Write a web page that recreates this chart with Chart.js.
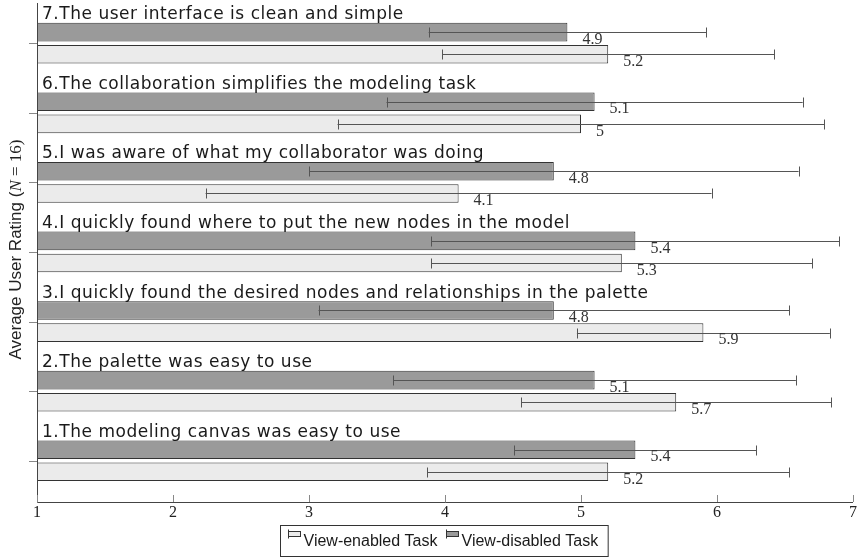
<!DOCTYPE html>
<html><head><meta charset="utf-8">
<script src="https://cdn.jsdelivr.net/npm/chart.js@4/dist/chart.umd.min.js"></script>
<style>html,body{margin:0;padding:0;background:#fff}#wrap{position:relative;width:858px;height:559px}</style>
</head><body><div id="wrap"><canvas id="c" width="858" height="559"></canvas></div>
<script>
// ---- data ----
const questions = [
  "1.The modeling canvas was easy to use",
  "2.The palette was easy to use",
  "3.I quickly found the desired nodes and relationships in the palette",
  "4.I quickly found where to put the new nodes in the model",
  "5.I was aware of what my collaborator was doing",
  "6.The collaboration simplifies the modeling task",
  "7.The user interface is clean and simple"
];
const questionIndex = [1, 2, 3, 4, 5, 6, 7];
const enabledMeans  = [5.2, 5.7, 5.9, 5.3, 4.1, 5.0, 5.2];
const enabledErr    = [1.33, 1.14, 0.93, 1.40, 1.86, 1.79, 1.22];
const disabledMeans = [5.4, 5.1, 4.8, 5.4, 4.8, 5.1, 4.9];
const disabledErr   = [0.89, 1.48, 1.73, 1.50, 1.80, 1.53, 1.02];
const seriesNames   = ["View-enabled Task", "View-disabled Task"];
const xTicks        = [1, 2, 3, 4, 5, 6, 7];

const SANS = '"Liberation Sans", Arial, sans-serif';
const TSANS = '"DejaVu Sans", "Liberation Sans", sans-serif';
const SERIF = '"Liberation Serif", "Times New Roman", serif';
const colEnabled = '#ebebeb', colDisabled = '#9a9a9a', colEdge = '#333333', colErr = '#555555';

const toPts = (vals) => vals.map((v, i) => ({ x: v, y: questionIndex[i] }));

const deco = {
  id: 'deco',
  afterDatasetsDraw(chart) {
    const ctx = chart.ctx, xs = chart.scales.x, ys = chart.scales.y, ca = chart.chartArea;
    ctx.save();
    // axis lines
    ctx.strokeStyle = '#444'; ctx.lineWidth = 1;
    ctx.beginPath();
    ctx.moveTo(ca.left + 0.5, ca.top); ctx.lineTo(ca.left + 0.5, ca.bottom + 0.5);
    ctx.lineTo(ca.right, ca.bottom + 0.5);
    ctx.stroke();
    // x ticks (inside)
    ctx.strokeStyle = '#888';
    xTicks.forEach(t => {
      const px = Math.round(xs.getPixelForValue(t)) + 0.5;
      ctx.beginPath(); ctx.moveTo(px, ca.bottom); ctx.lineTo(px, ca.bottom - 7); ctx.stroke();
    });
    // y ticks (outside)
    questionIndex.forEach(q => {
      const py = Math.round(ys.getPixelForValue(q)) + 0.5;
      ctx.beginPath(); ctx.moveTo(ca.left - 8, py); ctx.lineTo(ca.left, py); ctx.stroke();
    });
    // error bars + value labels
    chart.data.datasets.forEach((ds, di) => {
      const meta = chart.getDatasetMeta(di);
      meta.data.forEach((bar, i) => {
        const m = ds.data[i].x, e = ds.errors[i];
        const x0 = xs.getPixelForValue(m - e), x1 = xs.getPixelForValue(m + e);
        const y = Math.round(bar.y) + 0.5;
        ctx.strokeStyle = colErr; ctx.lineWidth = 1;
        ctx.beginPath();
        ctx.moveTo(x0, y); ctx.lineTo(x1, y);
        ctx.moveTo(Math.round(x0) + 0.5, y - 5); ctx.lineTo(Math.round(x0) + 0.5, y + 5);
        ctx.moveTo(Math.round(x1) + 0.5, y - 5); ctx.lineTo(Math.round(x1) + 0.5, y + 5);
        ctx.stroke();
        ctx.fillStyle = '#333'; ctx.font = '16px ' + SERIF;
        ctx.textAlign = 'left'; ctx.textBaseline = 'middle';
        ctx.fillText(String(m), bar.x + 15, bar.y + 7.5);
      });
    });
    // question titles: fit letter spacing so the longest title spans ~606px
    ctx.fillStyle = '#1a1a1a'; ctx.font = '17px ' + TSANS;
    ctx.textAlign = 'left'; ctx.textBaseline = 'alphabetic';
    const longest = questions[2];
    const natural = ctx.measureText(longest).width;
    const ls = Math.max(0, (606 - natural) / (longest.length - 1));
    ctx.letterSpacing = ls.toFixed(2) + 'px';
    questions.forEach((q, i) => {
      const py = ys.getPixelForValue(questionIndex[i]);
      ctx.fillText(q, ca.left + 5, py - 24);
    });
    ctx.restore();
  },
  afterDraw(chart) {
    const ctx = chart.ctx;
    ctx.save();
    // y axis title (rotated)
    ctx.translate(21, 249.5);
    ctx.rotate(-Math.PI / 2);
    const parts = [
      ['Average User Rating (', '17px ' + SANS],
      ['N', 'italic 17px ' + SERIF],
      [' = 16)', '17px ' + SERIF]
    ];
    let total = 0;
    parts.forEach(p => { ctx.font = p[1]; total += ctx.measureText(p[0]).width; });
    let x = -total / 2;
    ctx.fillStyle = '#222'; ctx.textBaseline = 'alphabetic'; ctx.textAlign = 'left';
    parts.forEach(p => { ctx.font = p[1]; ctx.fillText(p[0], x, 0); x += ctx.measureText(p[0]).width; });
    ctx.restore();

    // legend
    ctx.save();
    ctx.font = '16px ' + SANS;
    const w0 = ctx.measureText(seriesNames[0]).width, w1 = ctx.measureText(seriesNames[1]).width;
    const iconW = 12, gapI = 4, gapItems = 8, padL = 7, padR = 10;
    const boxW = padL + iconW + gapI + w0 + gapItems + iconW + gapI + w1 + padR;
    const bx = Math.round(444 - boxW / 2) + 0.5, by = 525.5, bh = 31;
    ctx.strokeStyle = '#333'; ctx.lineWidth = 1;
    ctx.fillStyle = '#fff';
    ctx.fillRect(bx, by, boxW, bh); ctx.strokeRect(bx, by, boxW, bh);
    const fills = [colEnabled, colDisabled];
    let cx = bx + padL;
    [0, 1].forEach(k => {
      ctx.fillStyle = fills[k];
      ctx.fillRect(Math.round(cx) + 0.5, 531.5, iconW, 5);
      ctx.strokeStyle = colEdge;
      ctx.strokeRect(Math.round(cx) + 0.5, 531.5, iconW, 5);
      ctx.beginPath(); ctx.moveTo(Math.round(cx) + 0.5, 529.5); ctx.lineTo(Math.round(cx) + 0.5, 538.5); ctx.stroke();
      cx += iconW + gapI;
      ctx.fillStyle = '#1a1a1a'; ctx.textBaseline = 'middle'; ctx.textAlign = 'left';
      ctx.fillText(seriesNames[k], cx, 542);
      cx += (k === 0 ? w0 : w1) + gapItems;
    });
    ctx.restore();
  }
};

new Chart(document.getElementById('c'), {
  type: 'bar',
  data: {
    datasets: [
      { label: seriesNames[1], data: toPts(disabledMeans), errors: disabledErr,
        backgroundColor: colDisabled, borderColor: colEdge, borderWidth: 1, borderSkipped: false },
      { label: seriesNames[0], data: toPts(enabledMeans), errors: enabledErr,
        backgroundColor: colEnabled, borderColor: colEdge, borderWidth: 1, borderSkipped: false }
    ]
  },
  options: {
    indexAxis: 'y',
    responsive: false,
    animation: false,
    devicePixelRatio: 1,
    categoryPercentage: 0.636,
    barPercentage: 0.84,
    layout: { padding: { left: 37, right: 5, top: 3, bottom: 0 } },
    plugins: { legend: { display: false }, tooltip: { enabled: false } },
    scales: {
      x: {
        type: 'linear', min: 1, max: 7,
        afterBuildTicks: (s) => { s.ticks = xTicks.map(v => ({ value: v })); },
        afterFit: (s) => { s.height = 57; },
        grid: { display: false, drawTicks: false },
        border: { display: false },
        ticks: { font: { family: SERIF, size: 16 }, color: '#222', padding: 1, maxRotation: 0 }
      },
      y: {
        type: 'linear', min: 0.407, max: 7.578, display: false, offset: false,
        afterBuildTicks: (s) => { s.ticks = questionIndex.map(v => ({ value: v })); }
      }
    }
  },
  plugins: [deco]
});
</script>
</body></html>
